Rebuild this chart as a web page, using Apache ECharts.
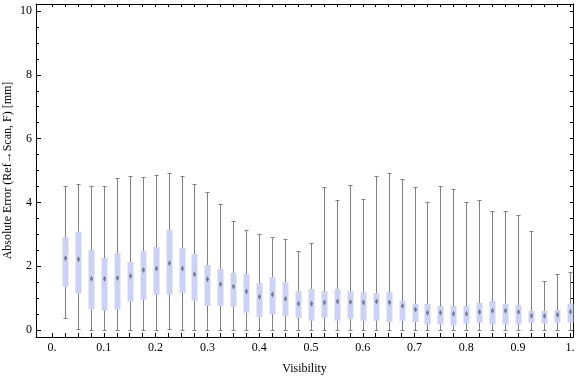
<!DOCTYPE html>
<html lang="en">
  <head>
    <meta charset="UTF-8" />
    <title>Absolute Error vs Visibility</title>
    <script src="https://cdn.jsdelivr.net/npm/echarts/dist/echarts.min.js"></script>
    <style>
      html, body { margin: 0; padding: 0; background: #fff; }
    </style>
  </head>
  <body>
    <div id="chart" style="width: 576px; height: 377px"></div>
    <script>
      // bin centres (visibility)
      var visibility = [
        0.025, 0.05, 0.075, 0.1, 0.125, 0.15, 0.175, 0.2, 0.225, 0.25,
        0.275, 0.3, 0.325, 0.35, 0.375, 0.4, 0.425, 0.45, 0.475, 0.5,
        0.525, 0.55, 0.575, 0.6, 0.625, 0.65, 0.675, 0.7, 0.725, 0.75,
        0.775, 0.8, 0.825, 0.85, 0.875, 0.9, 0.925, 0.95, 0.975, 1.0
      ];
      var whiskerLow = [
        0.37, 0.02, 0, 0, 0, 0, 0, 0, 0.02, 0,
        0, 0, 0, 0, 0, 0, 0, 0, 0, 0,
        0, 0, 0, 0, 0, 0, 0, 0, 0, 0,
        0, 0, 0, 0, 0, 0, 0, 0, 0, 0
      ];
      var q1 = [
        1.36, 1.14, 0.65, 0.61, 0.64, 0.89, 0.95, 1.11, 1.11, 1.16,
        0.92, 0.76, 0.76, 0.73, 0.54, 0.40, 0.49, 0.43, 0.37, 0.29,
        0.39, 0.29, 0.35, 0.29, 0.29, 0.25, 0.29, 0.25, 0.17, 0.17,
        0.14, 0.20, 0.23, 0.17, 0.17, 0.17, 0.23, 0.20, 0.23, 0.23
      ];
      var medians = [
        2.25, 2.22, 1.61, 1.61, 1.63, 1.69, 1.88, 1.93, 2.09, 1.93,
        1.75, 1.59, 1.43, 1.36, 1.21, 1.04, 1.11, 0.98, 0.82, 0.82,
        0.86, 0.89, 0.88, 0.86, 0.89, 0.86, 0.75, 0.64, 0.54, 0.54,
        0.51, 0.51, 0.56, 0.60, 0.60, 0.56, 0.45, 0.44, 0.48, 0.57
      ];
      var q3 = [
        2.91, 3.08, 2.51, 2.26, 2.41, 2.13, 2.48, 2.60, 3.13, 2.57,
        2.38, 2.04, 1.91, 1.79, 1.76, 1.47, 1.66, 1.50, 1.22, 1.29,
        1.22, 1.29, 1.22, 1.19, 1.16, 1.19, 0.91, 0.82, 0.82, 0.75,
        0.75, 0.75, 0.85, 0.91, 0.82, 0.78, 0.60, 0.60, 0.63, 0.82
      ];
      var whiskerHigh = [
        4.51, 4.57, 4.51, 4.51, 4.75, 4.83, 4.80, 4.86, 4.91, 4.83,
        4.57, 4.32, 3.95, 3.41, 3.12, 3.00, 2.91, 2.84, 2.47, 2.72,
        4.47, 4.07, 4.55, 4.10, 4.83, 4.91, 4.72, 4.47, 4.00, 4.51,
        4.41, 4.00, 4.07, 3.72, 3.72, 3.60, 3.09, 1.53, 1.75, 1.81
      ];
      var xLabelValues = [0, 0.1, 0.2, 0.3, 0.4, 0.5, 0.6, 0.7, 0.8, 0.9, 1.0];
      var yLabelValues = [0, 2, 4, 6, 8, 10];

      var xTickValues = [];
      for (var i = 0; i <= 40; i++) xTickValues.push(Math.round(i * 25) / 1000);
      var yMinorValues = [];
      for (var j = 0; j <= 20; j++) yMinorValues.push(j * 0.5);

      var boxData = visibility.map(function (v, k) {
        return [v, whiskerLow[k], q1[k], medians[k], q3[k], whiskerHigh[k]];
      });

      var boxFill = "#cbd2f4";
      var whiskerColor = "#808080";

      function renderBox(params, api) {
        var x = api.value(0);
        var pLow = api.coord([x, api.value(1)]);
        var pQ1 = api.coord([x, api.value(2)]);
        var pMed = api.coord([x, api.value(3)]);
        var pQ3 = api.coord([x, api.value(4)]);
        var pHigh = api.coord([x, api.value(5)]);
        var cx = Math.round(pMed[0]) + 0.5;
        var boxW = 6;
        var capW = 4;
        return {
          type: "group",
          children: [
            {
              type: "line",
              shape: { x1: cx, y1: pLow[1], x2: cx, y2: pHigh[1] },
              style: { stroke: whiskerColor, lineWidth: 1 },
            },
            {
              type: "line",
              shape: { x1: cx - capW / 2, y1: Math.round(pHigh[1]) + 0.5, x2: cx + capW / 2, y2: Math.round(pHigh[1]) + 0.5 },
              style: { stroke: whiskerColor, lineWidth: 1 },
            },
            {
              type: "line",
              shape: { x1: cx - capW / 2, y1: Math.round(pLow[1]) + 0.5, x2: cx + capW / 2, y2: Math.round(pLow[1]) + 0.5 },
              style: { stroke: whiskerColor, lineWidth: 1 },
            },
            {
              type: "rect",
              shape: { x: cx - boxW / 2, y: pQ3[1], width: boxW, height: pQ1[1] - pQ3[1] },
              style: { fill: boxFill },
            },
            {
              type: "polygon",
              shape: {
                points: [
                  [cx, pMed[1] - 3],
                  [cx + 1.6, pMed[1]],
                  [cx, pMed[1] + 3],
                  [cx - 1.6, pMed[1]],
                ],
              },
              style: { fill: "rgba(105,105,120,0.85)" },
            },
          ],
        };
      }

      var serif = "Liberation Serif";
      var chart = echarts.init(document.getElementById("chart"));
      var option = {
        animation: false,
        grid: { left: 36, right: 3, top: 4, bottom: 40, containLabel: false, outerBoundsMode: "none" },
        xAxis: [
          {
            type: "value",
            position: "bottom",
            min: -0.031,
            max: 1.006,
            name: "Visibility",
            nameLocation: "middle",
            nameGap: 26,
            nameMoveOverlap: false,
            nameTextStyle: { fontFamily: serif, fontSize: 12, color: "#000" },
            axisLine: { onZero: false, lineStyle: { color: "#000", width: 1 } },
            axisTick: { inside: true, length: 4, customValues: xTickValues, lineStyle: { color: "#000" } },
            axisLabel: {
              customValues: xLabelValues,
              margin: 5,
              fontFamily: serif,
              fontSize: 12,
              color: "#000",
              formatter: function (v) {
                if (v === 0) return "0.";
                if (v === 1) return "1.";
                return v.toFixed(1);
              },
            },
            splitLine: { show: false },
          },
          {
            type: "value",
            position: "top",
            min: -0.031,
            max: 1.006,
            axisLine: { onZero: false, lineStyle: { color: "#000", width: 1 } },
            axisTick: { inside: true, length: 3, customValues: xTickValues, lineStyle: { color: "#000" } },
            axisLabel: { show: false },
            splitLine: { show: false },
          },
        ],
        yAxis: [
          {
            type: "value",
            position: "left",
            min: -0.22,
            max: 10.22,
            name: "Absolute Error (Ref\u2192Scan, F) [mm]",
            nameLocation: "middle",
            nameGap: 22,
            nameMoveOverlap: false,
            nameTextStyle: { fontFamily: serif, fontSize: 12, color: "#000" },
            axisLine: { show: true, onZero: false, lineStyle: { color: "#000", width: 1 } },
            axisTick: { inside: true, length: 5, customValues: yLabelValues, lineStyle: { color: "#000" } },
            axisLabel: {
              customValues: yLabelValues,
              margin: 4,
              fontFamily: serif,
              fontSize: 12,
              color: "#000",
            },
            splitLine: { show: false },
          },
          {
            type: "value",
            position: "left",
            min: -0.22,
            max: 10.22,
            axisLine: { show: false, onZero: false },
            axisTick: { inside: true, length: 3, customValues: yMinorValues, lineStyle: { color: "#000" } },
            axisLabel: { show: false },
            splitLine: { show: false },
          },
          {
            type: "value",
            position: "right",
            min: -0.22,
            max: 10.22,
            axisLine: { show: true, onZero: false, lineStyle: { color: "#000", width: 1 } },
            axisTick: { inside: true, length: 3, customValues: yMinorValues, lineStyle: { color: "#000" } },
            axisLabel: { show: false },
            splitLine: { show: false },
          },
        ],
        series: [
          {
            type: "custom",
            xAxisIndex: 0,
            yAxisIndex: 0,
            renderItem: renderBox,
            encode: { x: 0, y: [1, 2, 3, 4, 5] },
            data: boxData,
          },
        ],
      };
      chart.setOption(option);
    </script>
  </body>
</html>
